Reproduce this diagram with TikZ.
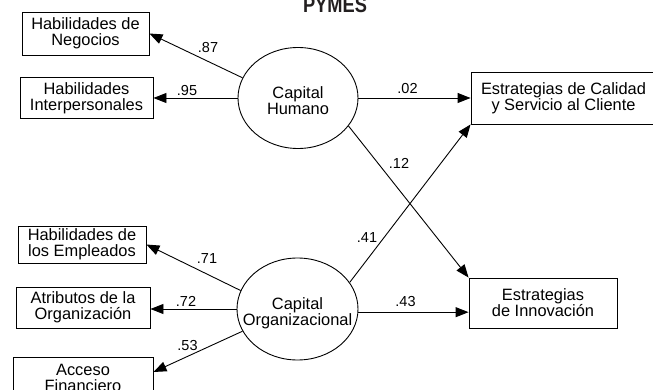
\documentclass[tikz,border=0pt]{standalone}
\usepackage{fontspec}
\setmainfont{Liberation Sans}
\usetikzlibrary{shapes.geometric,arrows.meta}
\definecolor{titlecol}{HTML}{231F20}
\begin{document}
\begin{tikzpicture}[x=1pt,y=-1pt,
  box/.style={draw,line width=0.9pt,inner sep=0pt,align=center,font=\fontsize{16.4}{16}\selectfont},
  lat/.style={draw,ellipse,line width=0.9pt,inner sep=0pt},
  lattext/.style={align=center,inner sep=0pt,font=\fontsize{16.4}{16}\selectfont},
  arr/.style={line width=0.9pt,-{Triangle[length=13pt,width=10pt]}},
  coef/.style={inner sep=0pt,font=\fontsize{14.5}{14.5}\selectfont},
]
\useasboundingbox (0,0) rectangle (653,390);

% title
\node[anchor=base,inner sep=0pt,text=titlecol,font=\bfseries\fontsize{22}{22}\selectfont] (T) at (335,13) {\scalebox{0.83}[1]{PYMES}};

% indicator boxes
\node[box,minimum width=127pt,minimum height=43pt] (HN) at (85.5,33.5) {Habilidades de\\Negocios};
\node[box,minimum width=133pt,minimum height=41pt] (HI) at (86.5,98) {Habilidades\\Interpersonales};
\node[box,minimum width=128pt,minimum height=37pt] (HE) at (82,244.5) {Habilidades de\\los Empleados};
\node[box,minimum width=134pt,minimum height=41pt] (AO) at (83,307.5) {Atributos de la\\Organización};
\node[box,minimum width=140pt,minimum height=41pt] (AF) at (83,377.5) {Acceso\\Financiero};

% outcome boxes
\node[box,minimum width=185pt,minimum height=52pt] (EC) at (563.5,98) {Estrategias de Calidad\\y Servicio al Cliente};
\node[box,minimum width=148pt,minimum height=50pt] (EI) at (543,303) {Estrategias\\de Innovación};

% latent variables
\node[lat,minimum width=120pt,minimum height=101pt] (CH) at (298,98) {};
\node[lattext] (CHt) at (298,101) {Capital\\Humano};
\node[lat,minimum width=121pt,minimum height=102pt] (CO) at (297.5,309) {};
\node[lattext] (COt) at (297.5,313) {Capital\\Organizacional};

% paths
\draw[arr] (CH.160) -- (HN.east);
\draw[arr] (CH.west) -- (HI.east);
\draw[arr] (CH.east) -- (EC.west);
\draw[arr] (CH.-29) -- (EI.north west);
\draw[arr] (CO.162) -- (HE.east);
\draw[arr] (CO.west) -- (CO.west -| AO.east);
\draw[arr] (CO.202) -- ([yshift=5.5pt]AF.east);
\draw[arr] (CO.27) -- (EC.south west);
\draw[arr] (CO.-3) -- (CO.-3 -| EI.west);

% coefficients
\node[coef] (l87) at (208,48) {.87};
\node[coef] (l95) at (187,91) {.95};
\node[coef] (l02) at (407.5,88.5) {.02};
\node[coef] (l12) at (399,163) {.12};
\node[coef] (l41) at (367,238) {.41};
\node[coef] (l43) at (405.5,302) {.43};
\node[coef] (l71) at (207,259) {.71};
\node[coef] (l72) at (186,301) {.72};
\node[coef] (l53) at (187.5,345.5) {.53};
\end{tikzpicture}
\end{document}
